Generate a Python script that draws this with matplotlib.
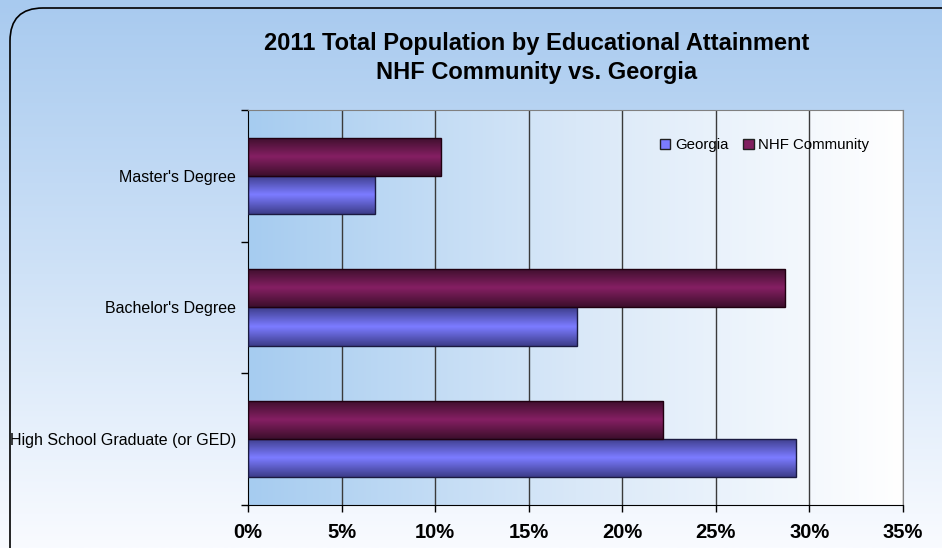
import numpy as np
import matplotlib
matplotlib.use("Agg")
import matplotlib.pyplot as plt
from matplotlib.patches import FancyBboxPatch, Patch
from matplotlib.colors import LinearSegmentedColormap

plt.rcParams['font.family'] = ['Liberation Sans', 'DejaVu Sans']

categories = ["High School Graduate (or GED)", "Bachelor's Degree", "Master's Degree"]
georgia = [29.3, 17.6, 6.8]
nhf = [22.2, 28.7, 10.3]
xticks = [0, 5, 10, 15, 20, 25, 30, 35]

fig = plt.figure(figsize=(9.42, 5.48), dpi=100)

# figure background: vertical gradient, light blue (top) to white (bottom)
bg = fig.add_axes([0, 0, 1, 1], zorder=-10)
grad = np.linspace(0, 1, 256).reshape(-1, 1)
bg_cmap = LinearSegmentedColormap.from_list("bg", ["#a8caef", "#cfe2f7", "#f9fbff"])
bg.imshow(grad, aspect="auto", cmap=bg_cmap, extent=[0, 1, 0, 1], origin="upper")
bg.set_xlim(0, 1)
bg.set_ylim(0, 1)
bg.axis("off")
top = 1 - 8 / 548
border = FancyBboxPatch((10 / 942, -0.5), 1.2, top + 0.5, boxstyle="round,pad=0,rounding_size=0.035",
                        transform=bg.transAxes, fill=False, edgecolor="black", linewidth=1.2,
                        mutation_aspect=942 / 548)
bg.add_patch(border)

ax = fig.add_axes([248 / 942, 1 - 505 / 548, (903 - 248) / 942, (505 - 110) / 548])

# plot area gradient, left blue to right white
plot_cmap = LinearSegmentedColormap.from_list("pa", ["#a6ccf0", "#d9e8f8", "#ffffff"])
ax.imshow(np.linspace(0, 1, 256).reshape(1, -1), aspect="auto", cmap=plot_cmap,
          extent=[0, 35, -0.5, 2.5], zorder=0)

for x in xticks[1:]:
    ax.axvline(x, color="#3a3a3a", linewidth=1, zorder=1)

y = np.arange(len(categories))
h = 0.29
bars_g = ax.barh(y - h / 2, georgia, height=h, color="#7b7bff", edgecolor="#1a1a40",
                 linewidth=1, zorder=2, label="Georgia")
bars_n = ax.barh(y + h / 2, nhf, height=h, color="#801f5f", edgecolor="#200010",
                 linewidth=1, zorder=2, label="NHF Community")

# cylinder-like shading inside bars
shade = 1 - np.abs(np.linspace(-1, 1, 64)).reshape(-1, 1)
cm_g = LinearSegmentedColormap.from_list("g", ["#3d3d8a", "#7b7bff"])
cm_n = LinearSegmentedColormap.from_list("n", ["#3d0f2c", "#841f62"])
for bars, cm in [(bars_g, cm_g), (bars_n, cm_n)]:
    for b in bars:
        x0, y0 = b.get_x(), b.get_y()
        im = ax.imshow(shade, aspect="auto", cmap=cm, zorder=2.5,
                       extent=[x0, x0 + b.get_width(), y0, y0 + b.get_height()])
        im.set_clip_path(b)
        b.set_zorder(3)
        b.set_facecolor("none")
ax.set_xlim(0, 35)
ax.set_ylim(-0.5, 2.5)

ax.set_xticks(xticks)
ax.set_xticklabels([f"{v}%" for v in xticks], fontsize=14.5, fontweight="bold")
ax.set_yticks([-0.5, 0.5, 1.5, 2.5])
ax.set_yticklabels([])
ax.set_yticks(y, minor=True)
ax.set_yticklabels(categories, minor=True, fontsize=11.5)
ax.tick_params(axis="y", which="minor", length=0, pad=8.5)
ax.tick_params(axis="y", which="major", length=5, width=1)
ax.tick_params(axis="x", length=5, width=1, pad=8)

for s in ["left", "bottom"]:
    ax.spines[s].set_color("black")
for s in ["top", "right"]:
    ax.spines[s].set_color("#808080")

handles = [Patch(facecolor="#7b7bff", edgecolor="#202020", label="Georgia"),
           Patch(facecolor="#801f5f", edgecolor="#202020", label="NHF Community")]
ax.legend(handles=handles, loc="upper right", bbox_to_anchor=(0.969, 0.963), ncol=2, frameon=False,
          fontsize=10.8, handlelength=0.7, handleheight=0.7, handletextpad=0.3, columnspacing=1.0)

fig.text(0.570, 0.894, "2011 Total Population by Educational Attainment\nNHF Community vs. Georgia",
         ha="center", va="center", fontsize=17, fontweight="bold", linespacing=1.37)

fig.savefig("out.png", dpi=100)
